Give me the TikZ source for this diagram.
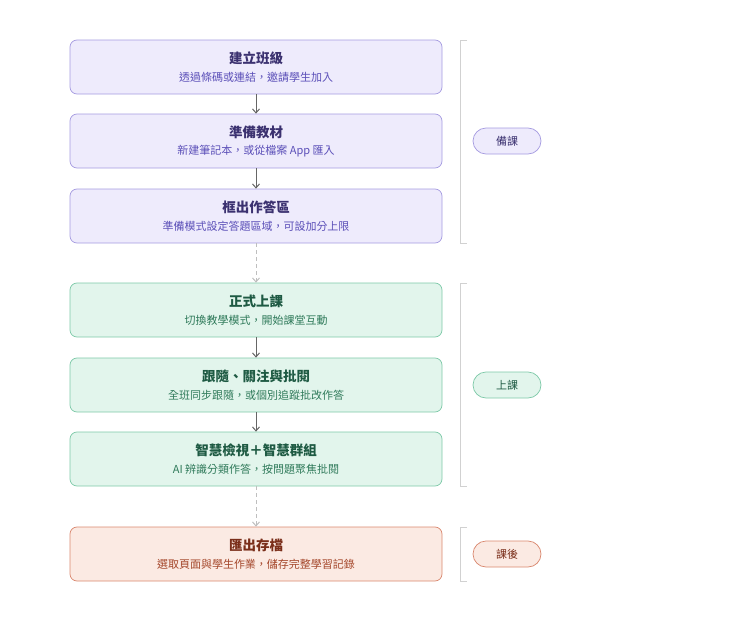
\documentclass[tikz,border=0pt]{standalone}
\usepackage{fontspec}
\setmainfont{Noto Sans CJK TC}
\usetikzlibrary{arrows.meta}
\definecolor{pf}{HTML}{EEEBFC}\definecolor{pb}{HTML}{A59BE0}\definecolor{pt}{HTML}{3B3170}\definecolor{ps}{HTML}{5B4FB8}
\definecolor{gf}{HTML}{E2F5EC}\definecolor{gb}{HTML}{7DC9A8}\definecolor{gt}{HTML}{1E5A43}\definecolor{gs}{HTML}{2F7A5A}
\definecolor{of}{HTML}{FBEAE3}\definecolor{ob}{HTML}{D9876E}\definecolor{ot}{HTML}{7A2E1A}\definecolor{os}{HTML}{A4462A}
\tikzset{
 box/.style={draw=#1b,fill=#1f,rounded corners=7pt,minimum width=372pt,minimum height=54pt,line width=0.7pt,inner sep=0pt},
 pill/.style={draw=#1b,fill=#1f,rounded corners=13pt,minimum width=68pt,minimum height=26pt,line width=0.7pt,text=#1t,font=\fontsize{11}{13}\selectfont},
 arr/.style={draw=black!60,line width=1pt,-{Straight Barb[length=4pt,width=7pt]}},
 darr/.style={draw=black!25,line width=1pt,dash pattern=on 4pt off 3pt,-{Straight Barb[length=4pt,width=7pt]}},
 brk/.style={draw=black!18,line width=0.8pt}
}
\newcommand{\bx}[5]{\node[box=#1] (#2) at (256pt,-#3pt) {};
 \node[text=#1t,font=\bfseries\fontsize{13.5}{16}\selectfont] at (256pt,-#3pt+9pt) {#4};
 \node[text=#1s,font=\fontsize{11}{13}\selectfont] at (256pt,-#3pt-10pt) {#5};}
\begin{document}
\begin{tikzpicture}[x=1pt,y=1pt]
\useasboundingbox (0,0) rectangle (740,-621);
\bx{p}{a}{67}{建立班級}{透過條碼或連結，邀請學生加入}
\bx{p}{b}{141}{準備教材}{新建筆記本，或從檔案 App 匯入}
\bx{p}{c}{216}{框出作答區}{準備模式設定答題區域，可設加分上限}
\bx{g}{d}{310}{正式上課}{切換教學模式，開始課堂互動}
\bx{g}{e}{385}{跟隨、關注與批閱}{全班同步跟隨，或個別追蹤批改作答}
\bx{g}{f}{459}{智慧檢視＋智慧群組}{AI 辨識分類作答，按問題聚焦批閱}
\bx{o}{h}{554}{匯出存檔}{選取頁面與學生作業，儲存完整學習記錄}
\draw[arr] (a) -- (b); \draw[arr] (b) -- (c);
\draw[darr] (c) -- (d);
\draw[arr] (d) -- (e); \draw[arr] (e) -- (f);
\draw[darr] (f) -- (h);
\draw[brk] (467,-40) -- (460,-40) -- (460,-243) -- (467,-243);
\draw[brk] (467,-283) -- (460,-283) -- (460,-486) -- (467,-486);
\draw[brk] (467,-527) -- (460,-527) -- (460,-581) -- (467,-581);
\node[pill=p] (p1) at (507,-141) {備課};
\node[pill=g] (p2) at (507,-385) {上課};
\node[pill=o] (p3) at (507,-554) {課後};
\end{tikzpicture}
\end{document}
